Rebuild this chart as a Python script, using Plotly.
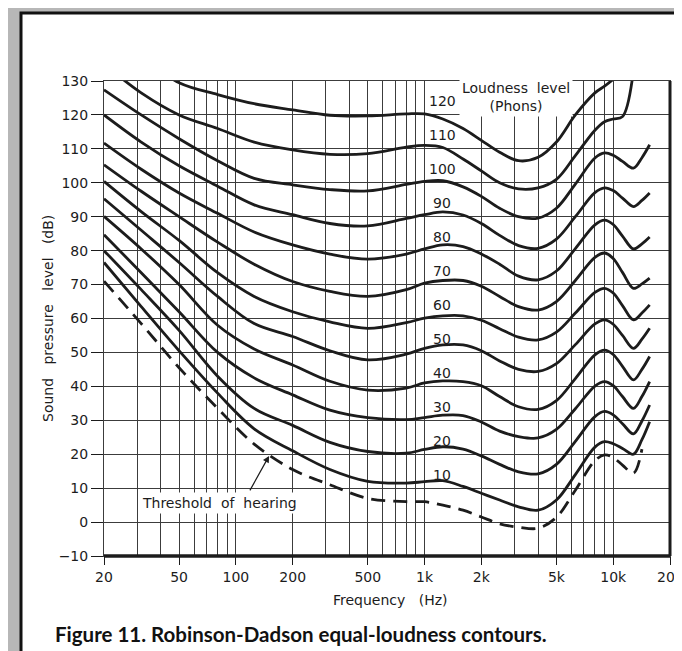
import math
import plotly.graph_objects as go

# ---------------- data ----------------
freq_hz = [20, 31.5, 50, 80, 125, 200, 315, 500, 800, 1000, 1250, 1600, 2000, 2500,
           3150, 4000, 5000, 6300, 8000, 9000, 10000, 11200, 12800, 14200, 15600]

phon_levels = [120, 110, 100, 90, 80, 70, 60, 50, 40, 30, 20, 10]

spl_120 = [145, 137, 129.5, 126, 123.3, 121.5, 119.9, 119.7, 120.3, 120.3, 118.8, 116, 112.5, 109,
           106.5, 107.5, 112, 120, 126.5, 128.5, 130.5, 133, None, None, None]
spl_110 = [135, 126.5, 120, 116, 112, 109.7, 108.4, 108.6, 110.5, 111, 110.4, 107, 103.5, 100,
           98.2, 98.5, 101, 108, 115.5, 118, 118.8, 119.5, 133, None, None]
spl_100 = [127.4, 120, 113, 106.5, 101.3, 99.4, 98, 97.6, 99.5, 100.4, 100.6, 98.8, 96, 92.5,
           90, 89.6, 92.5, 99.6, 107.3, 108.8, 108.1, 106.3, 104.3, 107.4, 111.2]
spl_90 = [120, 112, 105, 99, 93.5, 90.6, 88, 87.3, 89.5, 90.6, 91.4, 90.5, 88, 84.5,
          81.5, 80.7, 83.4, 90, 97.1, 98.5, 97.7, 95.5, 93, 94.8, 97]
spl_80 = [111.7, 104, 97, 91, 85.5, 81.7, 79, 77.5, 79, 80.5, 81.7, 81.2, 79, 76,
          72.5, 71.4, 74, 80.6, 87.6, 89, 87.7, 84.3, 80.5, 82, 84]
spl_70 = [105.3, 97.5, 90, 82.5, 76, 70.9, 68, 66.5, 68.5, 70.4, 71.2, 71.2, 69.5, 66.5,
          63.5, 62.5, 65, 71.2, 78, 79.3, 77.7, 73.6, 68.9, 70.2, 71.9]
spl_60 = [100.4, 91.5, 83, 73.5, 66.5, 62, 59, 57.1, 58.8, 60.1, 60.8, 60.8, 59.5, 57,
          54.5, 53.7, 56, 61.6, 67.7, 68.9, 67.5, 63.8, 59.6, 61.6, 64]
spl_50 = [95.3, 86, 76.5, 66.5, 58.5, 54.7, 50.5, 47.8, 49.5, 51.2, 52.2, 52.2, 50.5, 47.5,
          45, 44.4, 46.7, 52.3, 58.4, 59.6, 58.3, 55, 51.2, 53.9, 57.1]
spl_40 = [90.1, 80.5, 70, 58, 51, 46.3, 41.5, 38.9, 39.5, 41, 41.6, 41.4, 40.2, 37,
          34, 33.2, 35.8, 42.3, 49.3, 50.7, 49.4, 45.9, 41.9, 45, 48.8]
spl_30 = [84.7, 73.5, 62, 50, 42.5, 37.5, 33, 30.8, 30.2, 30.8, 31.5, 31.4, 29.5, 26.8,
          25.2, 24.8, 27.3, 33.4, 40.1, 41.4, 40.2, 37, 33.5, 37, 41.4]
spl_20 = [80, 68.5, 56.5, 43, 33.5, 28.5, 23.5, 20.8, 20.3, 21.4, 22.2, 21.5, 19.5, 17,
          14.8, 14.2, 17, 23.8, 31.1, 32.6, 31.6, 29, 26, 29.8, 34.5]
spl_10 = [76.5, 63.5, 50.5, 38, 27.5, 21, 15.5, 12, 11.5, 11.9, 12.2, 10.5, 8.5, 6.5,
          4.5, 3.5, 6.5, 14, 22.1, 23.7, 23.1, 21.7, 20, 24.3, 29.6]
spl_threshold = [71, 58.5, 45.5, 33.5, 23, 15.5, 11, 7, 6, 6, 5, 3.5, 1.5, -0.5,
                 -1.5, -1.8, 1.4, 9.4, 18.1, 19.8, 19, 16.8, 14.4, 21.5, None]

contours = [spl_120, spl_110, spl_100, spl_90, spl_80, spl_70,
            spl_60, spl_50, spl_40, spl_30, spl_20, spl_10]

x_tick_vals = [20, 50, 100, 200, 500, 1000, 2000, 5000, 10000, 20000]
x_tick_text = ["20", "50", "100", "200", "500", "1k", "2k", "5k", "10k", "20k"]
x_minor_grid = [30, 40, 60, 70, 80, 90, 300, 400, 600, 700, 800, 900,
                3000, 4000, 6000, 7000, 8000, 9000]

# ---------------- layout geometry ----------------
W, H = 682, 651
ML, MR, MT, MB = 96, 20, 73, 103
PW, PH = W - ML - MR, H - MT - MB


def px_x(px):
    return (px - ML) / PW


def px_y(py):
    return (H - MB - py) / PH


INK = "#1c1c1c"
GRID = "#3c3c3c"
FONT = "DejaVu Sans"
SP2 = "\u00a0 "
SP3 = "\u00a0\u00a0 "

fig = go.Figure()

for lvl, vals in zip(phon_levels, contours):
    fig.add_trace(go.Scatter(
        x=freq_hz, y=vals, mode="lines", name=f"{lvl} phon",
        line=dict(color=INK, width=2.8, shape="spline", smoothing=1.0),
        hoverinfo="skip", showlegend=False))

fig.add_trace(go.Scatter(
    x=freq_hz, y=spl_threshold, mode="lines", name="Threshold of hearing",
    line=dict(color=INK, width=2.8, dash="14px,8px", shape="spline", smoothing=1.0),
    hoverinfo="skip", showlegend=False))

annotations = []
for lvl in phon_levels:
    annotations.append(dict(
        x=math.log10(1240), y=lvl + 4, xref="x", yref="y", text=str(lvl),
        xanchor="center", yanchor="middle",
        showarrow=False, font=dict(family=FONT, size=14, color=INK)))

annotations.append(dict(
    x=px_x(508), y=px_y(89), xref="paper", yref="paper",
    xanchor="center", yanchor="middle",
    text="Loudness" + SP2 + "level<br>(Phons)", showarrow=False, align="center",
    bgcolor="white", borderpad=2,
    font=dict(family=FONT, size=14, color=INK)))

annotations.append(dict(
    x=px_x(211), y=px_y(495), xref="paper", yref="paper",
    xanchor="center", yanchor="middle",
    text="Threshold" + SP2 + "of" + SP2 + "hearing", showarrow=False,
    bgcolor="white", borderpad=2,
    font=dict(family=FONT, size=14, color=INK)))

# arrow pointing at the threshold curve
annotations.append(dict(
    x=math.log10(150), y=19.5, xref="x", yref="y", text="",
    showarrow=True, ax=-20, ay=36, arrowhead=2, arrowsize=1.1,
    arrowwidth=1.2, arrowcolor=INK))

annotations.append(dict(
    x=px_x(40), y=px_y(311), xref="paper", yref="paper",
    xanchor="center", yanchor="middle",
    text="Sound" + SP3 + "pressure" + SP3 + "level" + SP3 + "(dB)", textangle=-90,
    showarrow=False, font=dict(family=FONT, size=14, color=INK)))

annotations.append(dict(
    x=px_x(382), y=px_y(592), xref="paper", yref="paper",
    xanchor="center", yanchor="middle",
    text="Frequency" + SP3 + "(Hz)", showarrow=False,
    font=dict(family=FONT, size=14, color=INK)))

annotations.append(dict(
    x=px_x(45), y=px_y(626), xref="paper", yref="paper",
    xanchor="left", yanchor="middle",
    text="<b>Figure 11. Robinson-Dadson equal-loudness contours.</b>",
    showarrow=False, font=dict(family="Lato", size=20.5, color="#111")))

shapes = [
    # page frame
    dict(type="rect", xref="paper", yref="paper", layer="below",
         x0=px_x(13), x1=px_x(700), y0=px_y(650), y1=px_y(5),
         line=dict(color="#111", width=3), fillcolor="white"),
    # heavy bottom and right borders of the chart
    dict(type="line", xref="paper", yref="paper", x0=0, x1=1, y0=0, y1=0,
         line=dict(color=INK, width=3.5)),
    dict(type="line", xref="paper", yref="paper", x0=1, x1=1, y0=0, y1=1,
         line=dict(color=INK, width=3)),
]

fig.update_layout(
    width=W, height=H,
    margin=dict(l=ML, r=MR, t=MT, b=MB, autoexpand=False),
    paper_bgcolor="#b7b7b7", plot_bgcolor="white",
    annotations=annotations, shapes=shapes,
    xaxis=dict(
        type="log", range=[math.log10(20), math.log10(20000)],
        tickmode="array", tickvals=x_tick_vals, ticktext=x_tick_text,
        ticks="outside", ticklen=8, tickcolor=INK, tickwidth=1,
        showgrid=True, gridcolor=GRID, gridwidth=1,
        showline=True, linecolor=GRID, linewidth=1, mirror=True,
        zeroline=False,
        tickfont=dict(family=FONT, size=14, color=INK),
        minor=dict(tickmode="array", tickvals=x_minor_grid, showgrid=True,
                   gridcolor=GRID, gridwidth=1, ticks=""),
    ),
    yaxis=dict(
        range=[-10, 130], tick0=0, dtick=10,
        ticks="outside", ticklen=12, tickcolor=INK, tickwidth=1,
        showgrid=True, gridcolor=GRID, gridwidth=1,
        showline=True, linecolor=GRID, linewidth=1, mirror=True,
        zeroline=False,
        tickfont=dict(family=FONT, size=14, color=INK),
    ),
)

fig.write_html("out.html")
